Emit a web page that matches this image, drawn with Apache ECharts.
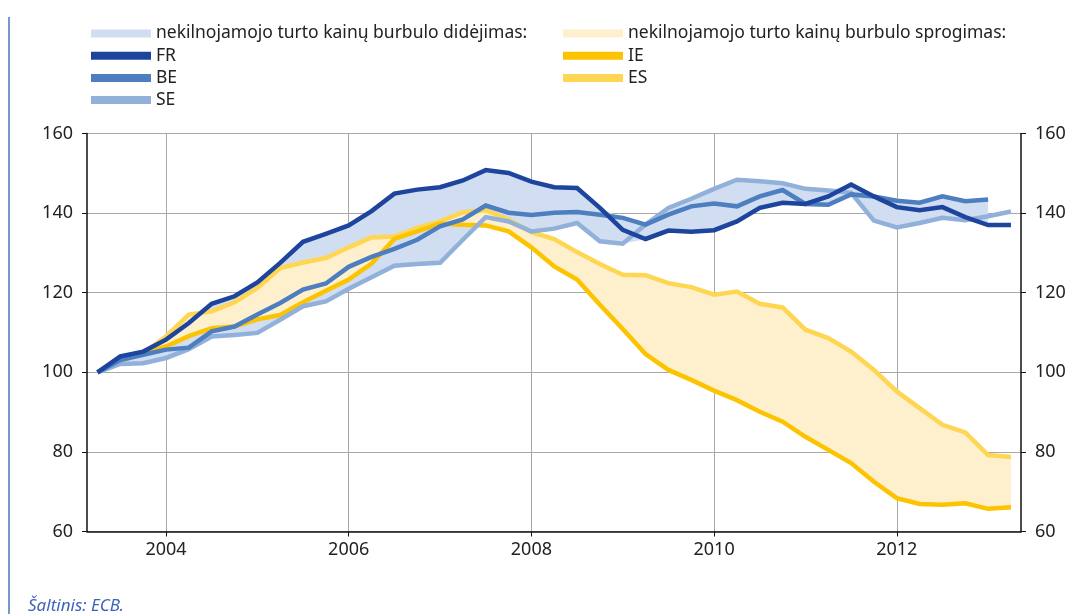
<!DOCTYPE html>
<html>
<head>
<meta charset="utf-8">
<script src="https://cdn.jsdelivr.net/npm/echarts@6/dist/echarts.min.js"></script>
<style>
  html, body { margin: 0; padding: 0; background: #fff; }
  #chart { width: 1071px; height: 614px; }
</style>
</head>
<body>
<div id="chart"></div>
<script>
// ketvirčiai
var quarters = ['2003Q2', '2003Q3', '2003Q4',
  '2004Q1', '2004Q2', '2004Q3', '2004Q4', '2005Q1', '2005Q2', '2005Q3', '2005Q4',
  '2006Q1', '2006Q2', '2006Q3', '2006Q4', '2007Q1', '2007Q2', '2007Q3', '2007Q4',
  '2008Q1', '2008Q2', '2008Q3', '2008Q4', '2009Q1', '2009Q2', '2009Q3', '2009Q4',
  '2010Q1', '2010Q2', '2010Q3', '2010Q4', '2011Q1', '2011Q2', '2011Q3', '2011Q4',
  '2012Q1', '2012Q2', '2012Q3', '2012Q4', '2013Q1', '2013Q2'];
var yearTicks = [2004, 2006, 2008, 2010, 2012];

var fr = [100, 104.0, 105.2, 108.2, 112.4, 117.2, 119.1, 122.6, 127.5, 132.8,
  134.8, 136.9, 140.5, 144.9, 145.9, 146.5, 148.2, 150.8, 150.1, 147.9,
  146.5, 146.3, 141.3, 135.8, 133.5, 135.6, 135.3, 135.7, 137.9, 141.3,
  142.6, 142.3, 144.2, 147.2, 144.2, 141.5, 140.7, 141.5, 139.0, 137.0, 137.0];
var be = [100, 103.1, 104.4, 105.7, 106.2, 110.3, 111.5, 114.5, 117.4, 120.8,
  122.3, 126.5, 129.0, 131.0, 133.3, 136.7, 138.4, 141.9, 140.1, 139.5,
  140.1, 140.3, 139.6, 138.8, 137.1, 139.6, 141.7, 142.4, 141.7, 144.2,
  145.8, 142.3, 142.1, 144.7, 144.2, 143.1, 142.6, 144.2, 143.0, 143.4];
var se = [100, 102.1, 102.3, 103.6, 105.8, 109.0, 109.4, 109.9, 113.2, 116.6,
  117.8, 121.0, 123.9, 126.8, 127.2, 127.5, 133.3, 139.0, 137.9, 135.4,
  136.1, 137.5, 132.9, 132.3, 137.1, 141.3, 143.6, 146.1, 148.4, 148.0,
  147.5, 146.1, 145.7, 145.1, 138.1, 136.4, 137.5, 138.8, 138.2, 139.2, 140.4];
var ie = [100, 103.5, 104.8, 106.5, 109.1, 111.1, 111.5, 113.3, 114.4, 117.6,
  120.5, 123.3, 127.3, 133.5, 135.4, 137.4, 137.1, 136.9, 135.4, 131.4,
  126.6, 123.3, 117.0, 110.9, 104.6, 100.6, 98.1, 95.4, 93.0, 90.1,
  87.6, 83.8, 80.5, 77.2, 72.5, 68.4, 66.9, 66.7, 67.1, 65.7, 66.1];
var es = [100, 102.8, 104.8, 109.0, 114.5, 115.3, 117.6, 121.2, 126.2, 127.6,
  128.7, 131.4, 133.9, 134.1, 136.3, 137.9, 140.2, 140.7, 138.4, 135.2,
  133.5, 130.2, 127.2, 124.5, 124.4, 122.4, 121.4, 119.5, 120.3, 117.2,
  116.3, 110.7, 108.6, 105.2, 100.6, 95.2, 91.0, 86.8, 84.9, 79.2, 78.7];

var nameUp = 'nekilnojamojo turto kainų burbulo didėjimas:';
var nameDown = 'nekilnojamojo turto kainų burbulo sprogimas:';

var FONT = 'Noto Sans';
var cBand1 = '#d1ddf1', cBand2 = '#fff0cd';
var cFR = '#1d459e', cBE = '#4d7ebf', cSE = '#91b1db', cIE = '#fcc300', cES = '#fed651';

var xs = quarters.map(function (q) {
  return +q.slice(0, 4) + (+q.slice(5) - 1) / 4;
});
function pairs(arr) {
  return arr.map(function (v, i) { return [xs[i], v]; });
}

// juostos tarp min ir max (mėlyna - kol yra BE duomenys)
var blueLo = [], blueHi = [];
for (var i = 0; i < be.length; i++) {
  blueLo.push(Math.min(fr[i], be[i], se[i]));
  blueHi.push(Math.max(fr[i], be[i], se[i]));
}
var yelLo = [], yelHi = [];
for (var j = 0; j < ie.length; j++) {
  yelLo.push(Math.min(ie[j], es[j]));
  yelHi.push(Math.max(ie[j], es[j]));
}

function lineSeries(name, arr, color, z) {
  return {
    name: name, type: 'line', data: pairs(arr), symbol: 'none', z: z,
    color: color,
    lineStyle: { color: color, width: 4.5, join: 'miter' },
    emphasis: { disabled: true }
  };
}
// juosta piešiama vienu poligonu per ašių skalę
function bandSeries(name, lo, hi, color, z) {
  return {
    name: name, type: 'custom', z: z, silent: true, color: color,
    data: hi.map(function (v, k) { return [xs[k], lo[k], v]; }),
    encode: { x: 0, y: [1, 2] },
    renderItem: function (params, api) {
      if (params.dataIndex !== 0) return;
      var pts = [];
      for (var a = 0; a < hi.length; a++) pts.push(api.coord([xs[a], hi[a]]));
      for (var b = lo.length - 1; b >= 0; b--) pts.push(api.coord([xs[b], lo[b]]));
      return { type: 'polygon', shape: { points: pts }, style: { fill: color } };
    }
  };
}

var myChart = echarts.init(document.getElementById('chart'));

var legendText = { color: '#222', fontSize: 17.5, fontFamily: FONT, lineHeight: 20 };

var option = {
  animation: false,
  textStyle: { fontFamily: FONT },
  grid: { left: 87, right: 50, top: 133.5, bottom: 82.5 },
  legend: [{
    left: 86, top: 18.5, orient: 'vertical', itemWidth: 60, itemHeight: 8, itemGap: 2.2,
    selectedMode: false, textStyle: legendText,
    data: [
      { name: nameUp, icon: 'rect', itemStyle: { color: cBand1 } },
      { name: 'FR', icon: 'rect', itemStyle: { color: cFR } },
      { name: 'BE', icon: 'rect', itemStyle: { color: cBE } },
      { name: 'SE', icon: 'rect', itemStyle: { color: cSE } }
    ]
  }, {
    left: 558, top: 18.5, orient: 'vertical', itemWidth: 60, itemHeight: 8, itemGap: 2.2,
    selectedMode: false, textStyle: legendText,
    data: [
      { name: nameDown, icon: 'rect', itemStyle: { color: cBand2 } },
      { name: 'IE', icon: 'rect', itemStyle: { color: cIE } },
      { name: 'ES', icon: 'rect', itemStyle: { color: cES } }
    ]
  }],
  xAxis: {
    type: 'value', min: 2003.135, max: 2013.36,
    axisLine: { lineStyle: { color: '#111', width: 1.5 } },
    axisTick: { customValues: yearTicks, length: 5, lineStyle: { color: '#111' } },
    axisLabel: {
      customValues: yearTicks, color: '#222', fontSize: 18, margin: 9,
      formatter: function (v) { return String(v); }
    },
    splitLine: { show: true, lineStyle: { color: '#a8a8a8', width: 1 } }
  },
  yAxis: [{
    type: 'value', min: 60, max: 160, interval: 20, position: 'left',
    axisLine: { show: true, lineStyle: { color: '#111', width: 1.5 } },
    axisTick: { show: true, length: 5, lineStyle: { color: '#111' } },
    axisLabel: { color: '#222', fontSize: 18, margin: 14 },
    splitLine: { lineStyle: { color: '#a8a8a8', width: 1 } }
  }, {
    type: 'value', min: 60, max: 160, interval: 20, position: 'right',
    axisLine: { show: true, lineStyle: { color: '#111', width: 1.5 } },
    axisTick: { show: true, length: 5, lineStyle: { color: '#111' } },
    axisLabel: { color: '#222', fontSize: 18, margin: 14 },
    splitLine: { show: false }
  }],
  series: [
    bandSeries(nameUp, blueLo, blueHi, cBand1, 1),
    bandSeries(nameDown, yelLo, yelHi, cBand2, 2),
    lineSeries('ES', es, cES, 3),
    lineSeries('IE', ie, cIE, 3),
    lineSeries('SE', se, cSE, 4),
    lineSeries('BE', be, cBE, 4),
    lineSeries('FR', fr, cFR, 4)
  ],
  graphic: [{
    type: 'line', shape: { x1: 9, y1: 17, x2: 9, y2: 614 },
    style: { stroke: '#4e72c0', lineWidth: 1.5 }
  }, {
    type: 'text', left: 28, top: 598,
    style: { text: 'Šaltinis: ECB.', fill: '#3e64b7', font: 'italic 17px "Noto Sans"' }
  }]
};

myChart.setOption(option);
</script>
</body>
</html>
